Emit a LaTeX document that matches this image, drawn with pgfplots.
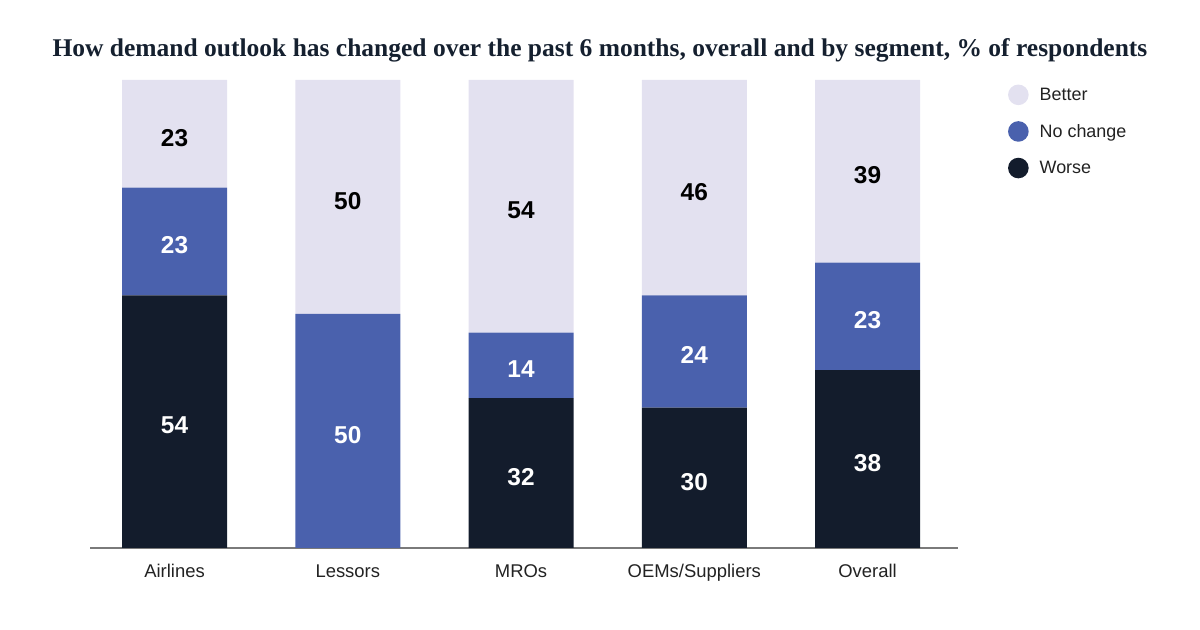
\documentclass[border=0pt]{standalone}
\usepackage{pgfplots}
\pgfplotsset{compat=1.18}
\usepackage{pgfplotstable}
\usepackage{fontspec}
\setmainfont{Liberation Sans}
\newfontfamily\titlefont{Liberation Serif}

\definecolor{better}{HTML}{E3E1F0}
\definecolor{nochange}{HTML}{4A61AD}
\definecolor{worse}{HTML}{131C2C}
\definecolor{titlecol}{HTML}{15202F}
\definecolor{labelcol}{HTML}{222222}
\definecolor{axiscol}{HTML}{7A7A7A}

% share of respondents per segment (%)
\pgfplotstableread{
x worse nochange better
0 54 23 23
1 0 50 50
2 32 14 54
3 30 24 46
4 38 23 39
}\outlook

\pgfplotsset{
  frame/.style={
    at={(90bp,82bp)}, anchor=south west,
    scale only axis, width=868bp, height=468bp,
    xmin=-0.488, xmax=4.522, ymin=0, ymax=100,
  },
  valuelabel/.style={
    draw=none, mark=none, nodes near coords, point meta=explicit,
    /pgf/number format/assume math mode=true,
    every node near coord/.style={anchor=center, yshift=-4bp,
      font=\bfseries\fontsize{24.5}{24}\selectfont, text=#1},
  },
}

\begin{document}
\begin{tikzpicture}
\path[use as bounding box] (0,0) rectangle (1200bp,630bp);

\node[font=\titlefont\bfseries\fontsize{25.6}{28}\selectfont, text=titlecol] at (600bp,580bp)
  {How demand outlook has changed over the past 6 months, overall and by segment, \% of respondents};

\begin{axis}[frame,
  ybar stacked, bar width=105bp,
  axis y line=none, axis x line*=bottom,
  x axis line style={-, draw=axiscol, line width=1.3bp},
  xtick={0,1,2,3,4}, major tick length=0,
  xticklabels={Airlines, Lessors, MROs, OEMs/Suppliers, Overall},
  typeset ticklabels with strut,
  xticklabel style={font=\fontsize{18.5}{18}\selectfont, text=labelcol, yshift=-13bp},
  legend image code/.code={\fill[#1] (0bp,0bp) circle (10.3bp);},
  reverse legend,
  legend style={at={(1.054,0.995)}, anchor=north west, draw=none, fill=none,
    font=\fontsize{18}{18}\selectfont, text=labelcol, row sep=16bp,
    nodes={inner sep=2bp},
    /tikz/every odd column/.append style={column sep=9bp}},
  legend cell align=left,
]
\addplot[fill=worse, draw=none] table[x=x, y=worse] {\outlook};
\addlegendentry{Worse}
\addplot[fill=nochange, draw=none] table[x=x, y=nochange] {\outlook};
\addlegendentry{No change}
\addplot[fill=better, draw=none] table[x=x, y=better] {\outlook};
\addlegendentry{Better}
\end{axis}

% value labels centred in each segment
\begin{axis}[frame, hide axis, clip=false]
\addplot[valuelabel=white, restrict y to domain=0.5:100]
  table[x=x, y expr=\thisrow{worse}/2, meta=worse] {\outlook};
\addplot[valuelabel=white]
  table[x=x, y expr=\thisrow{worse}+\thisrow{nochange}/2, meta=nochange] {\outlook};
\addplot[valuelabel=black]
  table[x=x, y expr=\thisrow{worse}+\thisrow{nochange}+\thisrow{better}/2, meta=better] {\outlook};
\end{axis}
\end{tikzpicture}
\end{document}
